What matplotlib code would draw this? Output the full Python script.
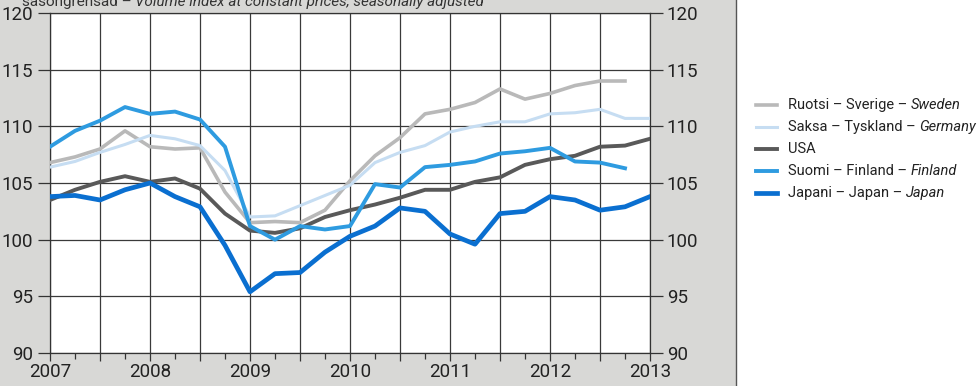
import numpy as np
import matplotlib
matplotlib.use("Agg")
import matplotlib.pyplot as plt
from matplotlib.patches import Rectangle
from matplotlib.lines import Line2D

# quarterly index values, 2007Q1 .. 2013Q1
quarters = 2007 + 0.25 * np.arange(25)

sweden = [106.8, 107.3, 108.0, 109.6, 108.2, 108.0, 108.1, 104.2, 101.5, 101.6,
          101.5, 102.6, 105.2, 107.4, 109.0, 111.1, 111.5, 112.1, 113.3, 112.4,
          112.9, 113.6, 114.0, 114.0]
germany = [106.4, 106.9, 107.7, 108.4, 109.2, 108.9, 108.3, 106.1, 102.0, 102.1,
           103.0, 103.9, 104.8, 106.8, 107.7, 108.3, 109.5, 110.0, 110.4, 110.4,
           111.1, 111.2, 111.5, 110.7, 110.7]
usa = [103.5, 104.4, 105.1, 105.6, 105.1, 105.4, 104.5, 102.3, 100.8, 100.6,
       101.0, 102.0, 102.6, 103.1, 103.7, 104.4, 104.4, 105.1, 105.5, 106.6,
       107.1, 107.4, 108.2, 108.3, 108.9]
finland = [108.2, 109.6, 110.5, 111.7, 111.1, 111.3, 110.6, 108.2, 101.2, 100.0,
           101.2, 100.9, 101.2, 104.9, 104.6, 106.4, 106.6, 106.9, 107.6, 107.8,
           108.1, 106.9, 106.8, 106.3]
japan = [103.8, 103.9, 103.5, 104.4, 105.0, 103.8, 102.9, 99.5, 95.4, 97.0,
         97.1, 98.9, 100.3, 101.2, 102.8, 102.5, 100.5, 99.6, 102.3, 102.5,
         103.8, 103.5, 102.6, 102.9, 103.8]

series = [
    ("Ruotsi – Sverige – ", "Sweden", sweden, "#b9b9b9", 2.6),
    ("Saksa – Tyskland – ", "Germany", germany, "#c6ddf2", 2.2),
    ("USA", "", usa, "#595959", 2.8),
    ("Suomi – Finland – ", "Finland", finland, "#2e9be0", 2.8),
    ("Japani – Japan – ", "Japan", japan, "#0a6fd0", 3.4),
]

plt.rcParams["font.family"] = ["Roboto", "DejaVu Sans"]

W, H = 979, 386
fig = plt.figure(figsize=(W / 100, H / 100), dpi=100)
fig.patch.set_facecolor("white")
fig.patches.append(Rectangle((0, 0), 736 / W, 1, transform=fig.transFigure,
                             facecolor="#d8d8d6", edgecolor="none", zorder=-10))
fig.lines.append(Line2D([736 / W, 736 / W], [0, 1], transform=fig.transFigure,
                        color="#555555", lw=1))

ax = fig.add_axes([50 / W, 1 - 353 / H, 600 / W, 340 / H])
ax.set_facecolor("white")
for name, it, vals, col, lw in series:
    ax.plot(quarters[:len(vals)], vals, color=col, lw=lw, solid_joinstyle="round", zorder=3)

ax.set_xlim(2007, 2013)
ax.set_ylim(90, 120)
ax.set_xticks(np.arange(2007, 2013.01, 0.5))
ax.set_xticks(np.arange(2007, 2013.01, 0.25), minor=True)
ax.set_xticklabels([str(int(t)) if t == int(t) else "" for t in np.arange(2007, 2013.01, 0.5)])
ax.set_yticks(np.arange(90, 121, 5))
ax.grid(True, which="major", color="#3a3a3a", lw=0.9, zorder=1)
ax.tick_params(axis="x", which="major", length=6, width=0.9, color="#333333",
               labelsize=13.5, pad=1, labelcolor="#222222")
ax.tick_params(axis="x", which="minor", length=4, width=0.9, color="#333333")
ax.tick_params(axis="y", which="major", length=9, width=0.9, color="#333333",
               labelsize=13.5, left=True, right=True, labelleft=True, labelright=True,
               pad=3, labelcolor="#222222")
for s in ax.spines.values():
    s.set_color("#333333")
    s.set_linewidth(0.9)

# heading, partly cut off at the top edge as in the source
t1 = fig.text(22 / W, 1 - 6 / H, "sasongrensad – ", fontsize=11, color="#333333", va="baseline")
fig.canvas.draw()
r = fig.canvas.get_renderer()
bb = t1.get_window_extent(r)
fig.text(bb.x1 / W, 1 - 6 / H, "Volume index at constant prices, seasonally adjusted",
         fontsize=11, style="italic", color="#333333", va="baseline")

# legend
row_y = [105, 127, 149, 171, 193]
for (name, it, vals, col, lw), y in zip(series, row_y):
    yf = 1 - y / H
    fig.lines.append(Line2D([756 / W, 777 / W], [yf, yf], transform=fig.transFigure,
                            color=col, lw=lw))
    t = fig.text(788 / W, yf, name, fontsize=10.5, color="#222222", va="center")
    if it:
        bb = t.get_window_extent(r)
        fig.text(bb.x1 / W, yf, it, fontsize=10.5, style="italic", color="#222222", va="center")

fig.savefig("out.png", dpi=100)
